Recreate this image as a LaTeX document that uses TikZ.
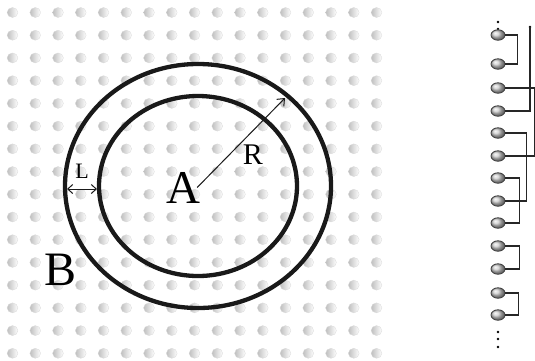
\documentclass[tikz,border=0pt]{standalone}
\usepackage{fontspec}
\setmainfont{Liberation Serif}
\usetikzlibrary{arrows.meta,shapes.geometric}
\begin{document}
\begin{tikzpicture}[x=1pt,y=-1pt]
\tikzstyle{ring}=[line width=4.3pt,black!90]
\tikzstyle{arr}=[line width=1pt,black!90]
\tikzstyle{wire}=[line width=1.5pt,black!85]
\tikzstyle{bead}=[ellipse,minimum width=14pt,minimum height=10.5pt,inner sep=0pt,draw=black!75,line width=0.8pt,ball color=gray!40]
\tikzstyle{lbl}=[inner sep=0pt]
\useasboundingbox (0,0) rectangle (535,360);
% lattice
\foreach \i in {0,...,16}
  \foreach \j in {0,...,15}
    \shade[left color=gray!50,right color=white,draw=gray!30,line width=0.3pt] (12.5+22.75*\i,12.5+22.72*\j) ellipse [x radius=5.4pt,y radius=5pt];
\coordinate (ctr) at (198,186);
\draw[ring] (ctr) ellipse [x radius=133pt,y radius=122pt];
\draw[ring] (ctr) ellipse [x radius=99pt,y radius=90pt];
\node[lbl,font=\fontsize{47}{47}\selectfont] (A) at (183,187.5) {A};
\node[lbl,font=\fontsize{48}{48}\selectfont] (B) at (61,270) {B};
\node[lbl,font=\fontsize{30}{30}\selectfont] (R) at (253,155) {R};
\node[lbl,font=\fontsize{22}{22}\selectfont] (L) at (82,171) {L};
\coordinate (rtip) at (285,98);
\coordinate (lo) at (67,189);
\coordinate (li) at (97,189);
\draw[arr,-{Straight Barb[length=6pt,width=10pt]}] ([xshift=-3pt]A.east) -- (rtip);
\draw[arr,{Straight Barb[length=5pt,width=9pt]}-{Straight Barb[length=5pt,width=9pt]}] (lo) -- (li);
% chain
\coordinate (top) at (530,27);
\fill (498,22) circle (1.4pt);
\fill (498,29) circle (1.4pt);
\fill (top) circle (1.4pt);
\fill (498,332) circle (1.4pt);
\fill (498,339) circle (1.4pt);
\fill (498,347) circle (1.4pt);
\node[bead] (b1) at (498,35) {};
\node[bead] (b2) at (498,64) {};
\node[bead] (b3) at (498,88) {};
\node[bead] (b4) at (498,111) {};
\node[bead] (b5) at (498,133) {};
\node[bead] (b6) at (498,156) {};
\node[bead] (b7) at (498,178) {};
\node[bead] (b8) at (498,201) {};
\node[bead] (b9) at (498,223) {};
\node[bead] (b10) at (498,246) {};
\node[bead] (b11) at (498,269) {};
\node[bead] (b12) at (498,293) {};
\node[bead] (b13) at (498,315) {};
\draw[wire] (b1.east) -- ++(12,0) |- (b2.east);
\draw[wire] (b3.east) -- ++(29,0) |- (b6.east);
\draw[wire] (top) |- (b4.east);
\draw[wire] (b5.east) -- ++(21,0) |- (b8.east);
\draw[wire] (b7.east) -- ++(14,0) |- (b9.east);
\draw[wire] (b10.east) -- ++(14,0) |- (b11.east);
\draw[wire] (b12.east) -- ++(13,0) |- (b13.east);
\end{tikzpicture}
\end{document}
